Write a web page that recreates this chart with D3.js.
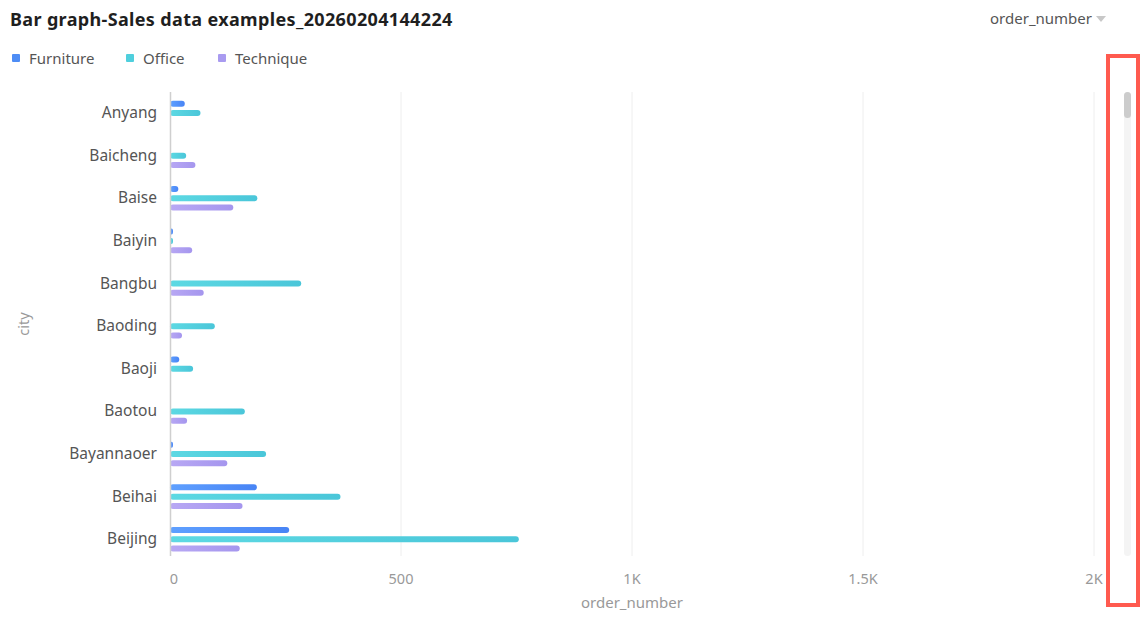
<!DOCTYPE html>
<html>
<head>
<meta charset="utf-8">
<script src="https://cdn.jsdelivr.net/npm/d3@7/dist/d3.min.js"></script>
<style>
  html, body { margin: 0; padding: 0; background: #fff; }
  svg { display: block; font-family: "Noto Sans", "Liberation Sans", Arial, sans-serif; }
</style>
</head>
<body>
<svg id="chart" width="1142" height="620"></svg>
<script>
const cities = ["Anyang","Baicheng","Baise","Baiyin","Bangbu","Baoding","Baoji","Baotou","Bayannaoer","Beihai","Beijing"];
const seriesNames = ["Furniture","Office","Technique"];
const furniture = [32, 0, 18, 3, 0, 0, 20, 0, 5, 188, 258];
const office    = [66, 35, 189, 3, 284, 97, 50, 162, 208, 369, 755];
const technique = [0, 55, 137, 48, 73, 26, 0, 37, 124, 157, 151];
const xTicks = [0, 500, 1000, 1500, 2000];
const xTickLabels = ["0", "500", "1K", "1.5K", "2K"];

const legendColors = ["#4E8DF5", "#4FCFDD", "#A99BF0"];
const gradStops = [["#5FA0FF", "#4884F5"], ["#5DD9E3", "#4AC6D9"], ["#B8A8F4", "#A596EE"]];

const svg = d3.select("#chart");
const defs = svg.append("defs");
seriesNames.forEach((s, i) => {
  const g = defs.append("linearGradient").attr("id", "grad" + i)
    .attr("x1", "0%").attr("x2", "100%").attr("y1", "0%").attr("y2", "0%");
  g.append("stop").attr("offset", "0%").attr("stop-color", gradStops[i][0]);
  g.append("stop").attr("offset", "100%").attr("stop-color", gradStops[i][1]);
});

const x = d3.scaleLinear().domain([0, 2000]).range([170, 1094]);
const y = d3.scaleBand().domain(cities).range([91.7, 560.6]);
const inner = d3.scaleBand().domain(seriesNames).range([-14, 14]);
const barH = 6;
const values = [furniture, office, technique];

// Title
svg.append("text").attr("x", 10).attr("y", 26)
  .attr("font-size", 18).attr("font-weight", "bold").attr("letter-spacing", 0.35).attr("fill", "#1f1f1f")
  .text("Bar graph-Sales data examples_20260204144224");

// Dropdown
svg.append("text").attr("x", 1092).attr("y", 24).attr("text-anchor", "end")
  .attr("font-size", 15).attr("fill", "#555").text("order_number");
svg.append("path").attr("d", "M1096,16 L1106,16 L1101,22 Z").attr("fill", "#c8c8c8");

// Legend
const legendX = [12, 126, 218];
seriesNames.forEach((s, i) => {
  svg.append("rect").attr("x", legendX[i]).attr("y", 54).attr("width", 8).attr("height", 8)
    .attr("rx", 1).attr("fill", legendColors[i]);
  svg.append("text").attr("x", legendX[i] + 17).attr("y", 64)
    .attr("font-size", 15).attr("fill", "#555").text(s);
});

// Grid lines
svg.append("g").selectAll("line").data(xTicks.slice(1)).join("line")
  .attr("x1", d => x(d)).attr("x2", d => x(d))
  .attr("y1", 92).attr("y2", 556)
  .attr("stroke", "#eeeeee").attr("stroke-width", 1);

// Bars
seriesNames.forEach((s, i) => {
  svg.append("g").selectAll("rect").data(cities.map((c, j) => ({c, v: values[i][j]})).filter(d => d.v > 0))
    .join("rect")
    .attr("x", x(0))
    .attr("y", d => y(d.c) + y.bandwidth() / 2 + inner(s) + inner.bandwidth() / 2 - barH / 2)
    .attr("width", d => Math.max(3, x(d.v) - x(0)))
    .attr("height", barH)
    .attr("rx", 3).attr("ry", 3)
    .attr("fill", "url(#grad" + i + ")");
});

// Y axis line
svg.append("line").attr("x1", 170.5).attr("x2", 170.5).attr("y1", 92).attr("y2", 556)
  .attr("stroke", "#cfcfcf").attr("stroke-width", 1.5);

// Y labels
svg.append("g").selectAll("text").data(cities).join("text")
  .attr("x", 157).attr("y", d => y(d) + y.bandwidth() / 2 + 5)
  .attr("text-anchor", "end").attr("font-size", 15.5).attr("fill", "#555")
  .text(d => d);

// X tick labels
svg.append("g").selectAll("text").data(xTicks).join("text")
  .attr("x", (d, i) => x(d) + (i === 0 ? 4 : 0)).attr("y", 584)
  .attr("text-anchor", "middle").attr("font-size", 14.5).attr("fill", "#999")
  .text((d, i) => xTickLabels[i]);

// Axis titles
svg.append("text").attr("x", 632).attr("y", 608).attr("text-anchor", "middle")
  .attr("font-size", 15).attr("fill", "#999").text("order_number");
svg.append("text").attr("transform", "translate(29,324) rotate(-90)").attr("text-anchor", "middle")
  .attr("font-size", 14.5).attr("fill", "#999").text("city");

// Scrollbar
svg.append("rect").attr("x", 1124).attr("y", 92).attr("width", 7).attr("height", 464)
  .attr("rx", 3.5).attr("fill", "#f4f4f4");
svg.append("rect").attr("x", 1124).attr("y", 92).attr("width", 7).attr("height", 26)
  .attr("rx", 3.5).attr("fill", "#cccccc");

// Red highlight box
svg.append("rect").attr("x", 1108).attr("y", 56).attr("width", 30).attr("height", 549)
  .attr("fill", "none").attr("stroke", "#FF5A4F").attr("stroke-width", 4);
</script>
</body>
</html>
